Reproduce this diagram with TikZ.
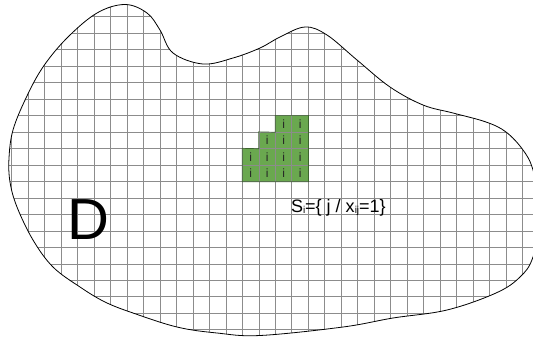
\documentclass[tikz,border=0pt]{standalone}
\usepackage{fontspec}
\setmainfont{Liberation Sans}
\usetikzlibrary{positioning}
\definecolor{cellgreen}{RGB}{106,168,79}
\definecolor{celledge}{RGB}{60,100,45}
\definecolor{meshgray}{RGB}{140,140,140}
\newcommand\lowidx[1]{\raisebox{-1pt}{\fontsize{10}{10}\selectfont #1}}

\begin{document}
\begin{tikzpicture}[
    x=1pt, y=-1pt,
    greencell/.style={rectangle, fill=cellgreen, minimum size=16.48pt, inner sep=0pt, text=black!85, font=\fontsize{12}{12}\selectfont},
    meshline/.style={draw=meshgray, line width=0.7pt},
    outline/.style={draw=black, line width=0.8pt}
]
    \useasboundingbox (0,0) rectangle (533,338);
    \path[save path=\blobpath] plot[smooth cycle, tension=0.6] coordinates {
        (9,158) (13,130) (26,98) (43,67) (67,38) (97,13) (125,4.5) (147,13) (160,30) (173,53)
        (203,64) (233,58) (260,48) (280,37) (305,27) (327,35) (357,60) (390,87) (423,105)
        (453,113) (486,122) (506,132) (523,150) (533,170) (542,213) (533,257) (520,277)
        (496,293) (447,310) (393,318) (343,327) (260,335.5) (217,333) (177,327) (133,313)
        (105,302) (80,287) (53,267) (33,240) (17,207) (10,182)};

    % green cells of S_i
    \foreach \r/\c in {7/17,7/18,8/16,8/17,8/18,9/15,9/16,9/17,9/18,10/15,10/16,10/17,10/18}
        \node[greencell] (cell-\r-\c) at ({-4.8+16.48*(\c+0.5)}, {0.2+16.48*(\r+0.5)}) {i};

    % mesh over the domain
    \begin{scope}
        \clip[use path=\blobpath];
        \foreach \k in {0,...,33}
            \draw[meshline] ({-4.8+16.48*\k}, 0) -- ({-4.8+16.48*\k}, 338);
        \foreach \n in {0,...,21}
            \draw[meshline] (0, {0.2+16.48*\n}) -- (545, {0.2+16.48*\n});
    \end{scope}

    \draw[celledge, line width=0.7pt] (cell-7-17.north west) -- (cell-7-18.north east)
        -- (cell-10-18.south east) -- (cell-10-15.south west) -- (cell-9-15.north west)
        -- (cell-8-16.south west) -- (cell-8-16.north west) -- (cell-7-17.south west) -- cycle;

    \draw[outline, use path=\blobpath];

    \node (domain) at (88,220) {\fontsize{58}{58}\selectfont D};
    \node[anchor=base west, inner sep=0pt] (setdef) at (290.8,212.7)
        {\fontsize{18}{18}\selectfont S\lowidx{i}=\{ j / x\lowidx{ij}=1\}};
\end{tikzpicture}
\end{document}
